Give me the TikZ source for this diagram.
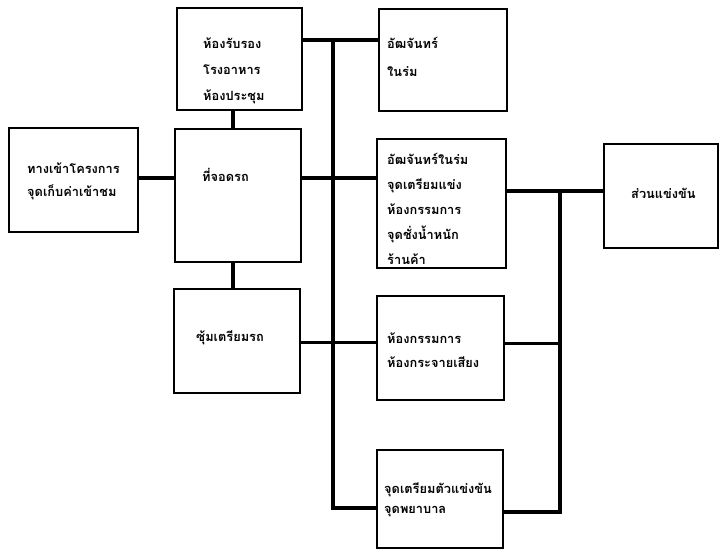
\documentclass[tikz,border=0pt]{standalone}
\usepackage{fontspec}
\newfontfamily\thaifont[Script=Thai]{Loma}
\begin{document}
\begin{tikzpicture}[x=1pt,y=-1pt,
  box/.style={draw,line width=2pt,rectangle,inner sep=0pt},
  lbl/.style={anchor=west,align=left,inner sep=0pt,font=\thaifont\bfseries\fontsize{12.8}{#1}\selectfont},
  lbl/.default=25,
  conn/.style={line width=3.6pt},
  thin/.style={line width=3pt}]
\useasboundingbox (0,0) rectangle (721,555);
% boxes
\node[box,minimum width=125pt,minimum height=102pt] (A) at (239.5,59) {};
\node[box,minimum width=129pt,minimum height=104pt] (B) at (73,180) {};
\node[box,minimum width=126pt,minimum height=133pt] (C) at (238,195.5) {};
\node[box,minimum width=126pt,minimum height=104pt] (D) at (237,341) {};
\node[box,minimum width=128pt,minimum height=102pt] (E) at (443,60) {};
\node[box,minimum width=129pt,minimum height=129pt] (F) at (441.5,203.5) {};
\node[box,minimum width=127pt,minimum height=104pt] (G) at (440.5,348) {};
\node[box,minimum width=126pt,minimum height=98pt] (H) at (440,499) {};
\node[box,minimum width=114pt,minimum height=104pt] (I) at (661,196) {};
% labels
\node[lbl=26] (tA) at (203,71) {ห้องรับรอง\\โรงอาหาร\\ห้องประชุม};
\node[lbl=23] (tB) at (27,181) {ทางเข้าโครงการ\\จุดเก็บค่าเข้าชม};
\node[lbl] (tC) at (202,175) {ที่จอดรถ};
\node[lbl] (tD) at (196,338) {ซุ้มเตรียมรถ};
\node[lbl=28] (tE) at (387,57) {อัฒจันทร์\\ในร่ม};
\node[lbl=25] (tF) at (387,209) {อัฒจันทร์ในร่ม\\จุดเตรียมแข่ง\\ห้องกรรมการ\\จุดชั่งน้ำหนัก\\ร้านค้า};
\node[lbl=24] (tG) at (387,350) {ห้องกรรมการ\\ห้องกระจายเสียง};
\node[lbl=20] (tH) at (384,500) {จุดเตรียมตัวแข่งขัน\\จุดพยาบาล};
\node[lbl] (tI) at (631,193) {ส่วนแข่งขัน};
% bus coordinates
\coordinate (LT) at (333,40);
\coordinate (LB) at (333,508);
\coordinate (RT) at (560,191);
\coordinate (RB) at (560,512);
\coordinate (yC) at (0,178);
\coordinate (yD) at (0,342);
\coordinate (xAC) at (233,0);
% connectors
\draw[conn] (A.east |- LT) -- (E.west |- LT);
\draw[conn] (LT) -- (LB) -- (H.west |- LB);
\draw[conn] (B.east |- yC) -- (C.west |- yC);
\draw[conn] (C.east |- yC) -- (F.west |- yC);
\draw[conn] (A.south -| xAC) -- (C.north -| xAC);
\draw[conn] (C.south -| xAC) -- (D.north -| xAC);
\draw[thin] (D.east |- yD) -- (G.west |- yD);
\draw[conn] (F.east |- RT) -- (I.west |- RT);
\draw[conn] (RT) -- (RB) -- (H.east |- RB);
\draw[thin] (G.east |- 0,343) -- (RT |- 0,343);
\end{tikzpicture}
\end{document}
